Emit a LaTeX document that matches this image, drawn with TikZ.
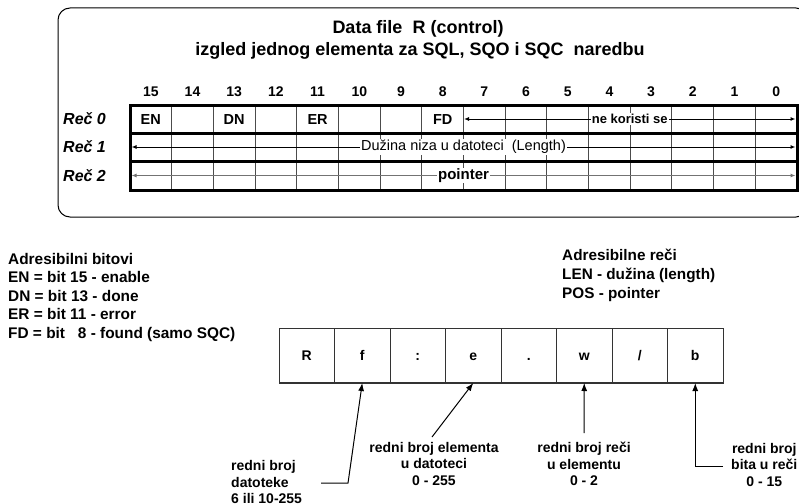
\documentclass[tikz,border=0pt]{standalone}
\usepackage{fontspec}
\setmainfont{Liberation Sans}
\usetikzlibrary{arrows.meta}
\begin{document}
\begin{tikzpicture}[x=1pt,y=-1pt,
  titletxt/.style={font=\bfseries\fontsize{18}{22}\selectfont, inner sep=0pt, anchor=base},
  hdr/.style={font=\bfseries\fontsize{14}{16}\selectfont, inner sep=0pt, anchor=base},
  rowlbl/.style={font=\bfseries\itshape\fontsize{16}{18}\selectfont, inner sep=0pt, anchor=base west},
  celltxt/.style={font=\bfseries\fontsize{14.5}{16}\selectfont, inner sep=0pt, anchor=base},
  gridline/.style={line width=1pt, draw=black!70},
  heavy/.style={line width=3pt},
  spanarr/.style={line width=1pt, {Latex[length=5pt,width=4pt]}-{Latex[length=5pt,width=4pt]}},
  spanlbl/.style={fill=white, inner sep=1pt},
  bitbox/.style={draw=black!80, line width=1pt, minimum width=55.5pt, minimum height=55pt, inner sep=0pt, outer sep=0pt, text height=10pt, text depth=0pt, font=\bfseries\fontsize{14}{16}\selectfont},
  info/.style={font=\bfseries\fontsize{15.4}{18.5}\selectfont, inner sep=0pt, align=left, anchor=north west},
  note/.style={font=\bfseries\fontsize{14}{16.5}\selectfont, inner sep=0pt},
  arr/.style={line width=1pt, -{Latex[length=8pt,width=6pt]}}
]
\useasboundingbox (0,0) rectangle (799,503);
% outer frame
\draw[line width=1pt, rounded corners=12pt] (58,8) rectangle (808,217);
% title
\node[titletxt] (t1) at (418,34) {Data file\ \ R (control)};
\node[titletxt] (t2) at (420,56) {izgled jednog elementa za SQL, SQO i SQC\ \ naredbu};
% bit numbers
\foreach \i in {0,...,15}
  \node[hdr] (h\i) at ({130+(15.5-\i)*41.6875},96) {\i};
% row labels
\node[rowlbl] (r0) at (63,124) {Reč 0};
\node[rowlbl] (r1) at (63,152.5) {Reč 1};
\node[rowlbl] (r2) at (63,181) {Reč 2};
% column lines
\foreach \k in {1,...,15}
  \draw[gridline] ({130+\k*41.6875},105) -- ({130+\k*41.6875},190);
% span arrows
\coordinate (a0) at (464,119);   \coordinate (b0) at (795.5,119);
\coordinate (a1) at (131.5,147); \coordinate (b1) at (795.5,147);
\coordinate (a2) at (131.5,175.5); \coordinate (b2) at (795.5,175.5);
\draw[spanarr] (a0) -- node[spanlbl, font=\bfseries\fontsize{13}{15}\selectfont] (l0) {ne koristi se} (b0);
\draw[spanarr] (a1) -- node[spanlbl, font=\fontsize{14.5}{16}\selectfont] (l1) {Dužina niza u datoteci\ \ (Length)} (b1);
\draw[spanarr, draw=black!55, fill=black!55] (a2) -- node[spanlbl, font=\bfseries\fontsize{15}{17}\selectfont, text=black] (l2) {pointer} (b2);
% heavy borders
\draw[heavy] (130,105) rectangle (797,190);
\draw[heavy] (130,133) -- (797,133);
\draw[heavy] (130,161) -- (797,161);
% bit names
\node[celltxt] (en) at (150.8,124) {EN};
\node[celltxt] (dn) at (234.2,124) {DN};
\node[celltxt] (er) at (317.6,124) {ER};
\node[celltxt] (fd) at (442.7,124) {FD};
% info blocks
\node[info] (ab) at (8,253) {Adresibilni bitovi\\EN = bit 15 - enable\\DN = bit 13 - done\\ER = bit 11 - error\\FD = bit\ \ \ 8 - found (samo SQC)};
\node[info, font=\bfseries\fontsize{15.3}{19}\selectfont] (ar) at (562,249) {Adresibilne reči\\LEN - dužina (length)\\POS - pointer};
% address boxes
\node[bitbox] (c1) at (306.75,355.5) {R};
\node[bitbox] (c2) at (362.25,355.5) {f};
\node[bitbox] (c3) at (417.75,355.5) {:};
\node[bitbox] (c4) at (473.25,355.5) {e};
\node[bitbox] (c5) at (528.75,355.5) {.};
\node[bitbox] (c6) at (584.25,355.5) {w};
\node[bitbox] (c7) at (639.75,355.5) {/};
\node[bitbox] (c8) at (695.25,355.5) {b};
\draw[line width=2pt, black!80] (c1.south west) -- (c8.south east);
% notes
\node[note, align=left, anchor=north west] (nf) at (231,460.5) {redni broj\\datoteke\\6 ili 10-255};
\node[note, align=center, anchor=north] (ne) at (434,442) {redni broj elementa\\u datoteci\\0 - 255};
\node[note, align=center, anchor=north] (nw) at (584,442) {redni broj reči\\u elementu\\0 - 2};
\node[note, align=center, anchor=north west] (nb) at (731,443) {redni broj\\bita u reči\\0 - 15};
% arrows
\coordinate (fa) at (321,483); \coordinate (fb) at (348,483);
\draw[arr] (fa) -- (fb) -- (c2.south);
\coordinate (ea) at (432,437);
\draw[arr] (ea) -- (c4.south);
\coordinate (wa) at (584,433);
\draw[arr] (wa) -- (c6.south);
\coordinate (ba) at (723,466); \coordinate (bb) at (695.25,466);
\draw[arr] (ba) -- (bb) -- (c8.south);
\end{tikzpicture}
\end{document}
